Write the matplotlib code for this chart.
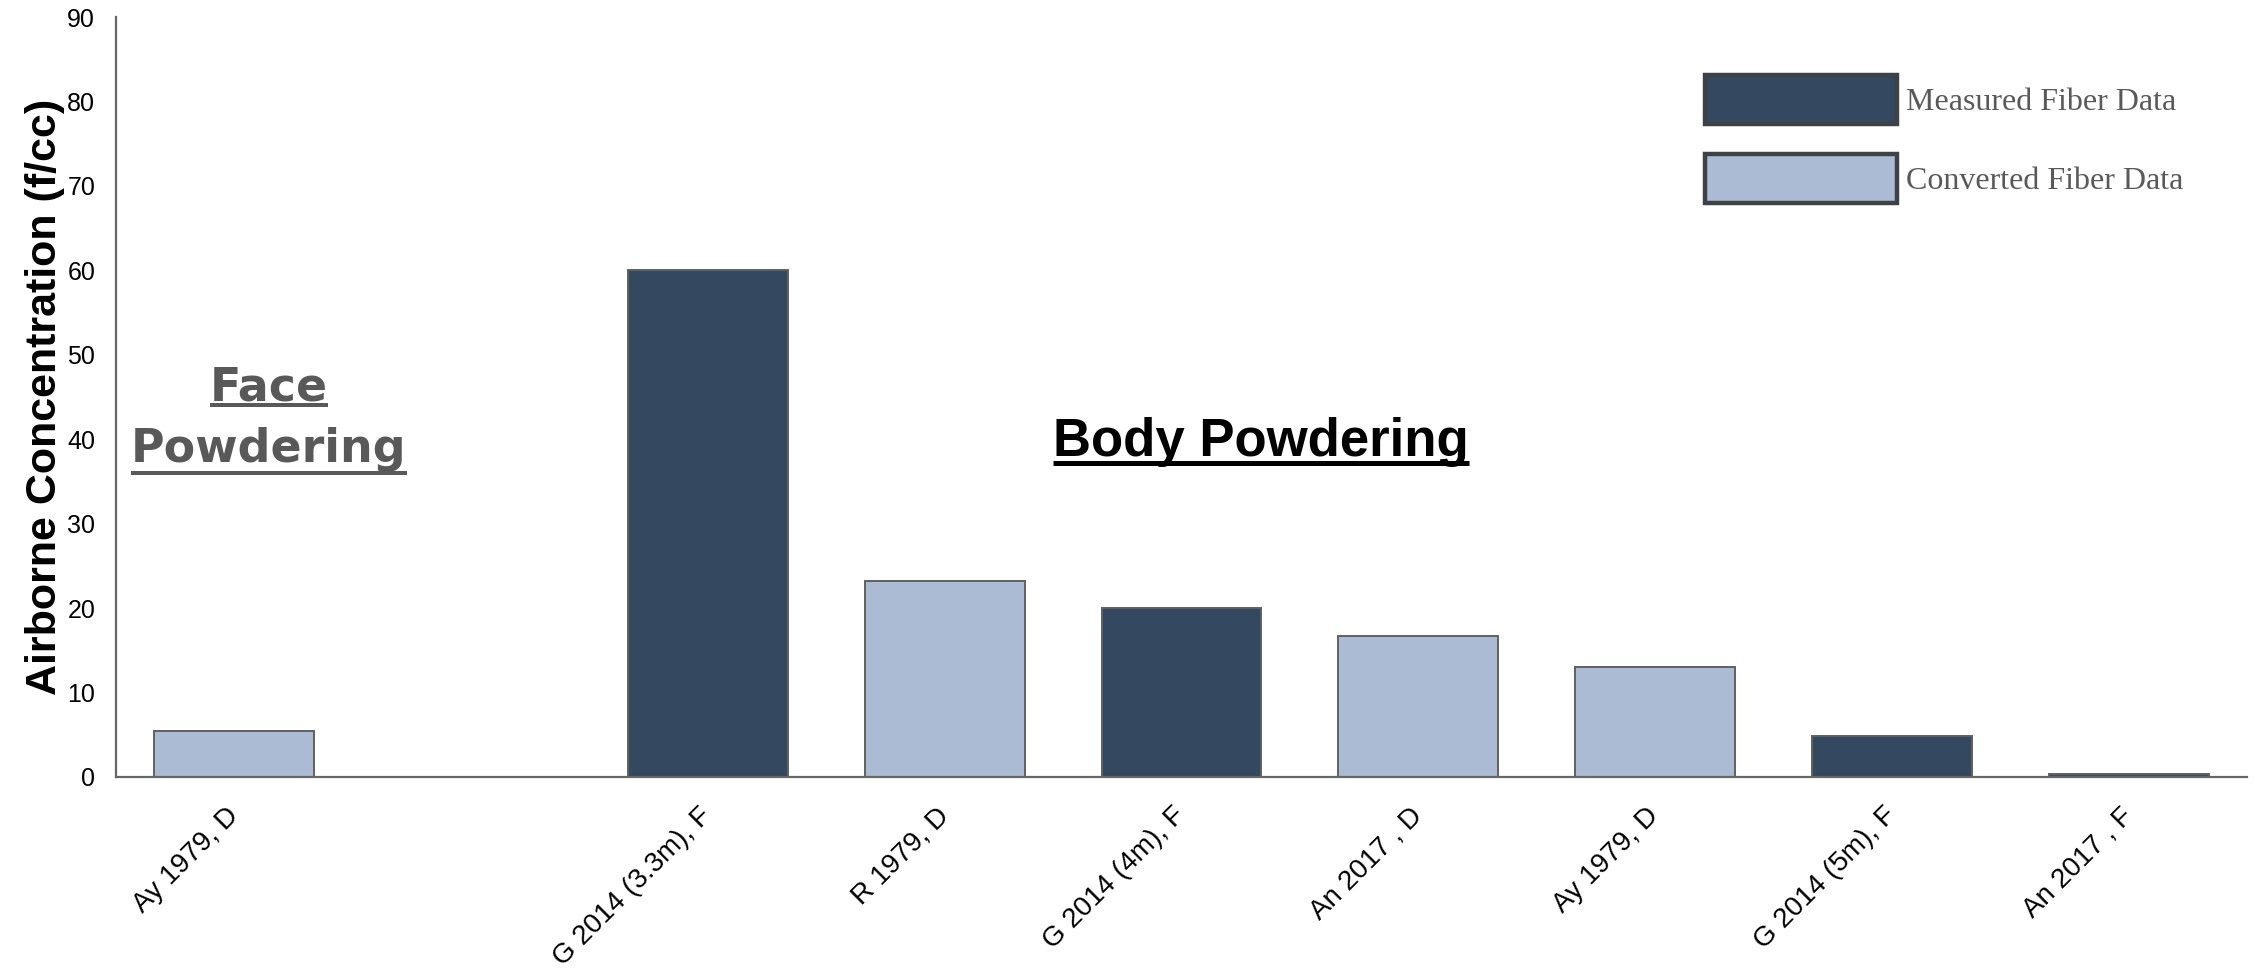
import matplotlib
matplotlib.use("Agg")
import matplotlib.pyplot as plt
from matplotlib import font_manager
from matplotlib.patches import Patch
from matplotlib.lines import Line2D

# study labels (blank slot separates face and body powdering)
labels = ["Ay 1979, D", "", "G 2014 (3.3m), F", "R 1979, D", "G 2014 (4m), F",
          "An 2017 , D", "Ay 1979, D", "G 2014 (5m), F", "An 2017 , F"]
concentration = [5.5, None, 60, 23.2, 20, 16.7, 13, 4.9, 0.3]
data_kind = ["converted", None, "measured", "converted", "measured",
             "converted", "converted", "measured", "measured"]
y_ticks = [0, 10, 20, 30, 40, 50, 60, 70, 80, 90]

colors = {"measured": "#34485f", "converted": "#aabbd3"}
legend_names = {"measured": "Measured Fiber Data", "converted": "Converted Fiber Data"}

W, H = 2255, 973
fig = plt.figure(figsize=(W / 100, H / 100), dpi=100)
ax = fig.add_axes([116 / W, 1 - 777 / H, (2247 - 116) / W, (777 - 17) / H])

for i, (v, kind) in enumerate(zip(concentration, data_kind)):
    if v is None:
        continue
    ax.bar(i, v, width=0.675, color=colors[kind], edgecolor="#606060",
           linewidth=1.4, zorder=2)

ax.set_xlim(-0.5, len(labels) - 0.5)
ax.set_ylim(0, 90)
ax.set_yticks(y_ticks)
ax.set_xticks(range(len(labels)))
ax.set_xticklabels(labels, rotation=45, ha="right", va="center",
                   rotation_mode="anchor", fontsize=20, family="Liberation Sans")
for lab in ax.get_yticklabels():
    lab.set_family("Liberation Sans")
    lab.set_fontsize(18)
ax.tick_params(axis="x", length=0, pad=25)
ax.tick_params(axis="y", length=0, pad=15)

for side in ("top", "right"):
    ax.spines[side].set_visible(False)
for side in ("left", "bottom"):
    ax.spines[side].set_color("#666666")
    ax.spines[side].set_linewidth(1.6)

available = {f.name for f in font_manager.fontManager.ttflist}
if "Liberation Sans Narrow" in available:
    ylab_font, ylab_size = "Liberation Sans Narrow", 37
else:
    ylab_font, ylab_size = "Liberation Sans", 31
ax.set_ylabel("Airborne Concentration (f/cc)", fontsize=ylab_size,
              fontweight="bold", family=ylab_font, va="center")
ax.yaxis.set_label_coords(-0.0333, 0.5)

handles = [Patch(facecolor=colors[k], edgecolor="#3e4247", linewidth=3.2,
                 label=legend_names[k]) for k in ("measured", "converted")]
ax.legend(handles=handles, loc="upper left",
          bbox_to_anchor=(1705 / W, 1 - 75 / H), bbox_transform=fig.transFigure,
          frameon=False, borderpad=0, borderaxespad=0, handlelength=6.0,
          handleheight=2.0, labelspacing=0.92, handletextpad=0.3,
          prop={"family": "Liberation Serif", "size": 23}, labelcolor="#595959")

# section headings
face_top = ax.text(0.146, 44.6, "Face", ha="center", va="baseline", fontsize=33,
                   fontweight="bold", family="DejaVu Sans", color="#595959")
face_bot = ax.text(0.146, 37.3, "Powdering", ha="center", va="baseline", fontsize=33,
                   fontweight="bold", family="DejaVu Sans", color="#595959")
body = ax.text(4.335, 38.0, "Body Powdering", ha="center", va="baseline", fontsize=38,
               fontweight="bold", family="Liberation Sans", color="black")

fig.canvas.draw()
renderer = fig.canvas.get_renderer()


def underline(txt, drop_px, width_px, color):
    bb = txt.get_window_extent(renderer)
    base = ax.transData.transform(txt.get_position())[1]
    y = (base - drop_px) / H
    fig.add_artist(Line2D([bb.x0 / W, bb.x1 / W], [y, y], transform=fig.transFigure,
                          color=color, linewidth=width_px * 0.72, solid_capstyle="butt"))


underline(face_top, 5, 4, "#595959")
underline(face_bot, 11, 4, "#595959")
underline(body, 7, 5, "black")

fig.savefig("out.png", dpi=100)
